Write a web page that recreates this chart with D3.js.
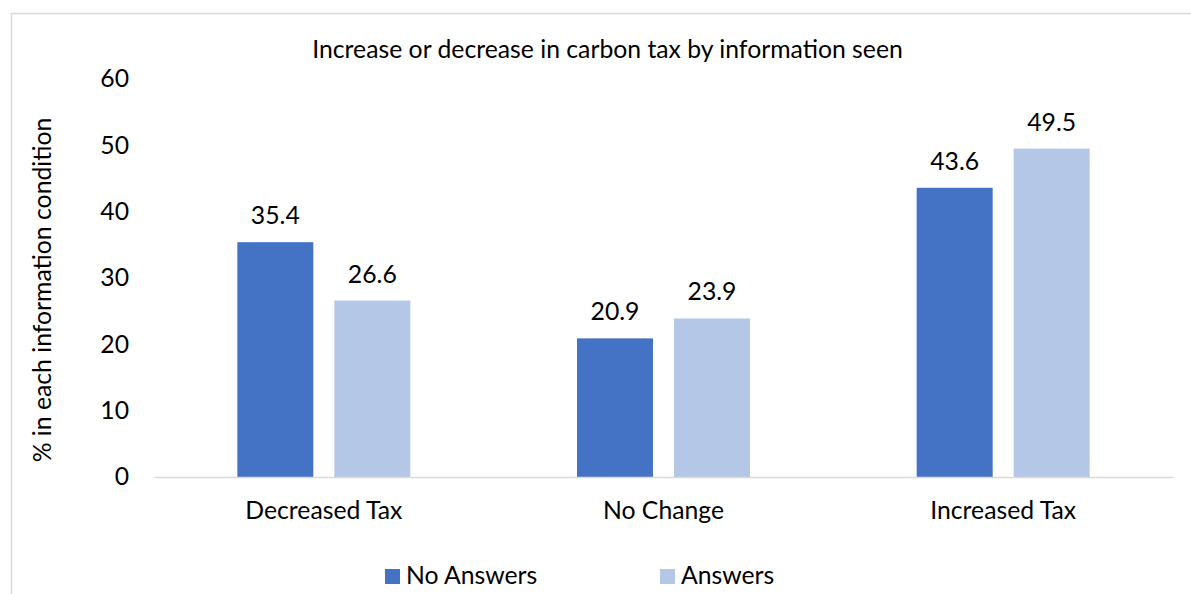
<!DOCTYPE html>
<html>
<head>
<meta charset="utf-8">
<script src="https://cdn.jsdelivr.net/npm/d3@7"></script>
<style>
  html, body { margin: 0; padding: 0; background: #fff; }
  svg { display: block; }
</style>
</head>
<body>
<svg id="chart" width="1191" height="594"></svg>
<script>
const categories = ["Decreased Tax", "No Change", "Increased Tax"];
const seriesNames = ["No Answers", "Answers"];
const noAnswers = [35.4, 20.9, 43.6];
const answers = [26.6, 23.9, 49.5];
const yTicks = [0, 10, 20, 30, 40, 50, 60];
const colors = ["#4472C4", "#B4C7E7"];
const titleText = "Increase or decrease in carbon tax by information seen";
const yLabel = "% in each information condition";

(function () {
const FONT = "Lato, 'Open Sans', sans-serif";
const svg = d3.select("#chart");

const probe = svg.append("text").attr("font-family", FONT).attr("font-size", 20).text(titleText);
const w20 = probe.node().getComputedTextLength();
probe.remove();
const fs = Math.max(18, Math.min(26, 20 * 591 / w20));

svg.append("rect").attr("x", 11.5).attr("y", 13.5).attr("width", 1200).attr("height", 600)
  .attr("fill", "none").attr("stroke", "#d9d9d9").attr("stroke-width", 1.5);

const pLeft = 154, pRight = 1173, pTop = 79, pBottom = 477;

const x0 = d3.scaleBand().domain(categories).range([pLeft, pRight]).padding(0);
const groupW = 173;
const x1 = d3.scaleBand().domain(seriesNames).range([0, groupW]).paddingInner(0.2165).paddingOuter(0);
const y = d3.scaleLinear().domain([0, 60]).range([pBottom, pTop]);

const data = categories.map((c, i) => ({cat: c, vals: [noAnswers[i], answers[i]]}));

svg.append("text").attr("x", (312 + 903) / 2).attr("y", 58)
  .attr("text-anchor", "middle").attr("font-family", FONT).attr("font-size", fs)
  .attr("fill", "#000").text(titleText);

const yAxis = d3.axisLeft(y).tickValues(yTicks).tickSize(0).tickPadding(0);
const yg = svg.append("g").attr("transform", `translate(129,0)`).call(yAxis);
yg.select(".domain").remove();
yg.selectAll("text").attr("font-family", FONT).attr("font-size", fs).attr("fill", "#000");

svg.append("text").attr("transform", `translate(51,290) rotate(-90)`)
  .attr("text-anchor", "middle").attr("font-family", FONT).attr("font-size", fs)
  .attr("fill", "#000").text(yLabel);

const groups = svg.selectAll("g.grp").data(data).enter().append("g")
  .attr("class", "grp")
  .attr("transform", d => `translate(${x0(d.cat) + (x0.bandwidth() - groupW) / 2},0)`);

groups.selectAll("rect").data(d => d.vals.map((v, j) => ({s: seriesNames[j], v, j})))
  .enter().append("rect")
  .attr("x", d => x1(d.s)).attr("width", x1.bandwidth())
  .attr("y", d => y(d.v)).attr("height", d => y(0) - y(d.v))
  .attr("fill", d => colors[d.j]);

groups.selectAll("text.lbl").data(d => d.vals.map((v, j) => ({s: seriesNames[j], v, j})))
  .enter().append("text").attr("class", "lbl")
  .attr("x", d => x1(d.s) + x1.bandwidth() / 2).attr("y", d => y(d.v) - 18)
  .attr("text-anchor", "middle").attr("font-family", FONT).attr("font-size", fs)
  .attr("fill", "#000").text(d => d.v.toFixed(1));

const xAxis = d3.axisBottom(x0).tickSize(0).tickPadding(0);
const xg = svg.append("g").attr("transform", `translate(0,${pBottom})`).call(xAxis);
xg.select(".domain").attr("stroke", "#d9d9d9").attr("stroke-width", 1.5);
xg.selectAll("text").attr("font-family", FONT).attr("font-size", fs).attr("fill", "#000")
  .attr("dy", null).attr("y", 42);

const legendX = [385, 660];
const leg = svg.selectAll("g.leg").data(seriesNames).enter().append("g")
  .attr("class", "leg").attr("transform", (d, i) => `translate(${legendX[i]},569)`);
leg.append("rect").attr("width", 15).attr("height", 15).attr("fill", (d, i) => colors[i]);
leg.append("text").attr("x", 21).attr("y", 15).attr("font-family", FONT).attr("font-size", fs)
  .attr("fill", "#000").text(d => d);
})();
</script>
</body>
</html>
